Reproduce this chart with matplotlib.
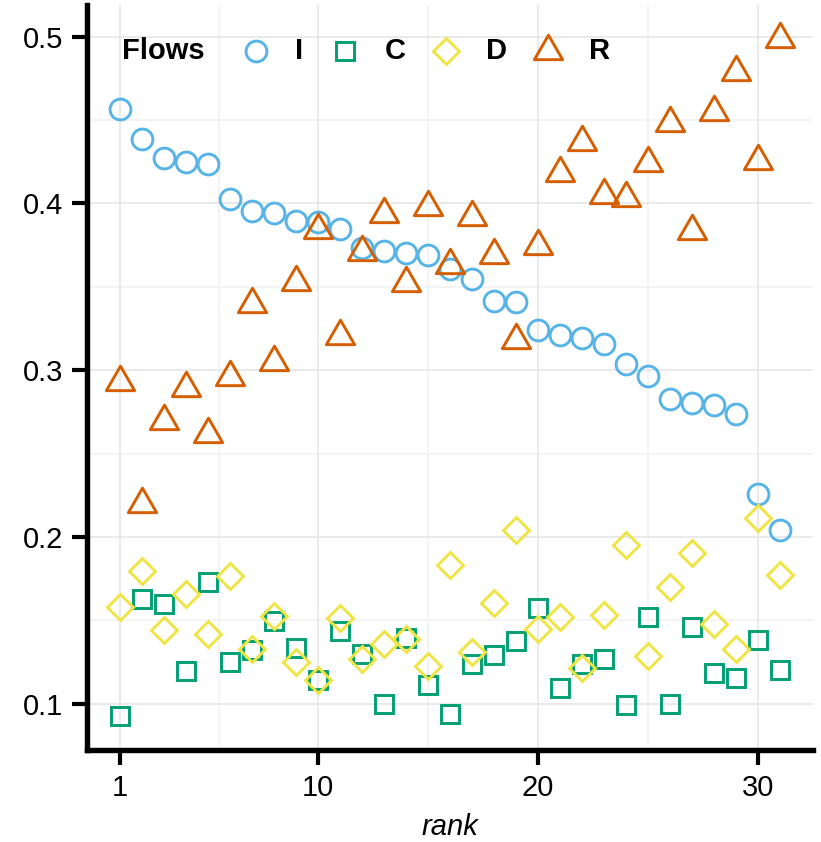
import matplotlib
matplotlib.use("Agg")
import matplotlib.pyplot as plt
from matplotlib.path import Path

# ---------------- data ----------------
rank = list(range(1, 32))
flow_I = [0.4568, 0.4384, 0.4274, 0.4249, 0.4238, 0.4028, 0.3955, 0.3943, 0.3892, 0.3889,
          0.3849, 0.3733, 0.3715, 0.3703, 0.3689, 0.3609, 0.3545, 0.3415, 0.3409, 0.3239,
          0.3213, 0.3195, 0.3159, 0.3035, 0.2963, 0.2825, 0.2803, 0.2793, 0.2735, 0.2255, 0.2043]
flow_C = [0.0926, 0.1628, 0.1596, 0.1198, 0.1730, 0.1248, 0.1324, 0.1496, 0.1336, 0.1140,
          0.1436, 0.1296, 0.1000, 0.1396, 0.1114, 0.0936, 0.1240, 0.1294, 0.1374, 0.1576,
          0.1094, 0.1236, 0.1266, 0.0990, 0.1520, 0.0996, 0.1460, 0.1186, 0.1156, 0.1380, 0.1204]
flow_D = [0.1582, 0.1798, 0.1440, 0.1660, 0.1420, 0.1769, 0.1330, 0.1524, 0.1250, 0.1140,
          0.1516, 0.1270, 0.1360, 0.1386, 0.1226, 0.1834, 0.1310, 0.1606, 0.2039, 0.1450,
          0.1520, 0.1212, 0.1534, 0.1953, 0.1284, 0.1703, 0.1906, 0.1476, 0.1326, 0.2114, 0.1774]
flow_R = [0.2932, 0.2197, 0.2697, 0.2896, 0.2620, 0.2960, 0.3396, 0.3046, 0.3530, 0.3840,
          0.3206, 0.3706, 0.3936, 0.3522, 0.3976, 0.3630, 0.3916, 0.3690, 0.3181, 0.3742,
          0.4180, 0.4366, 0.4050, 0.4030, 0.4240, 0.4479, 0.3836, 0.4545, 0.4785, 0.4252, 0.4986]
series_names = ["I", "C", "D", "R"]
legend_title = "Flows"
x_label = "rank"
x_ticks = [1, 10, 20, 30]
x_minor = [5.5, 15, 25]
y_ticks = [0.1, 0.2, 0.3, 0.4, 0.5]
y_minor = [0.15, 0.25, 0.35, 0.45]

# ---------------- style ----------------
plt.rcParams["font.family"] = ["Liberation Sans", "DejaVu Sans"]
colors = {"I": "#56B4E9", "C": "#009E73", "D": "#F0E442", "R": "#D55E00"}
tri = Path([(0, 1), (-0.866, -0.5), (0.866, -0.5), (0, 1)],
           [Path.MOVETO, Path.LINETO, Path.LINETO, Path.CLOSEPOLY])
markers = {"I": ("o", 15.0), "C": ("s", 13.3), "D": ("D", 13.3), "R": (tri, 23.5)}
mew = 2.1
fs = 21

fig = plt.figure(figsize=(8.21, 8.42), dpi=100)
ax = fig.add_axes([87 / 821, 92 / 842, 726 / 821, 745 / 842])

values = {"I": flow_I, "C": flow_C, "D": flow_D, "R": flow_R}
for name in series_names:
    m, ms = markers[name]
    ax.plot(rank, values[name], linestyle="none", marker=m, markersize=ms,
            markerfacecolor="none", markeredgecolor=colors[name],
            markeredgewidth=mew, zorder=3)

allv = flow_I + flow_C + flow_D + flow_R
lo, hi = min(allv), max(allv)
span = hi - lo
ax.set_ylim(lo - 0.05 * span, hi + 0.05 * span)
xspan = rank[-1] - rank[0]
ax.set_xlim(rank[0] - 0.05 * xspan, rank[-1] + 0.05 * xspan)

ax.set_xticks(x_ticks)
ax.set_xticklabels([str(t) for t in x_ticks])
ax.set_yticks(y_ticks)
ax.set_yticklabels([f"{t:.1f}" for t in y_ticks])

# grid
for xv in x_minor:
    ax.axvline(xv, color="#F4F4F4", lw=1.4, zorder=0)
for yv in y_minor:
    ax.axhline(yv, color="#F4F4F4", lw=1.4, zorder=0)
for xv in x_ticks:
    ax.axvline(xv, color="#E6E6E6", lw=1.2, zorder=0.5)
for yv in y_ticks:
    ax.axhline(yv, color="#E6E6E6", lw=1.2, zorder=0.5)

for s in ["top", "right"]:
    ax.spines[s].set_visible(False)
for s in ["left", "bottom"]:
    ax.spines[s].set_linewidth(3.9)
    ax.spines[s].set_color("black")
    ax.spines[s].set_capstyle("projecting")

ax.tick_params(axis="both", which="major", length=11, width=3.0, color="black",
               labelsize=fs, labelcolor="black", pad=6)
ax.set_xlabel(x_label, fontsize=fs, style="italic", labelpad=8)

# legend (manual, horizontal, inside top)
ly = 0.938
ax.text(0.048, ly, legend_title, transform=ax.transAxes, fontsize=fs,
        fontweight="bold", ha="left", va="center")
mk_x = [0.2328, 0.3554, 0.4945, 0.635]
lab_x = [0.292, 0.4242, 0.5634, 0.7066]
for name, mx, tx in zip(series_names, mk_x, lab_x):
    m, ms = markers[name]
    ax.plot([mx], [ly], transform=ax.transAxes, linestyle="none", marker=m,
            markersize=ms, markerfacecolor="none", markeredgecolor=colors[name],
            markeredgewidth=mew, clip_on=False, zorder=4)
    ax.text(tx, ly, name, transform=ax.transAxes, fontsize=fs,
            fontweight="bold", ha="center", va="center")

fig.savefig("out.png", dpi=100)
